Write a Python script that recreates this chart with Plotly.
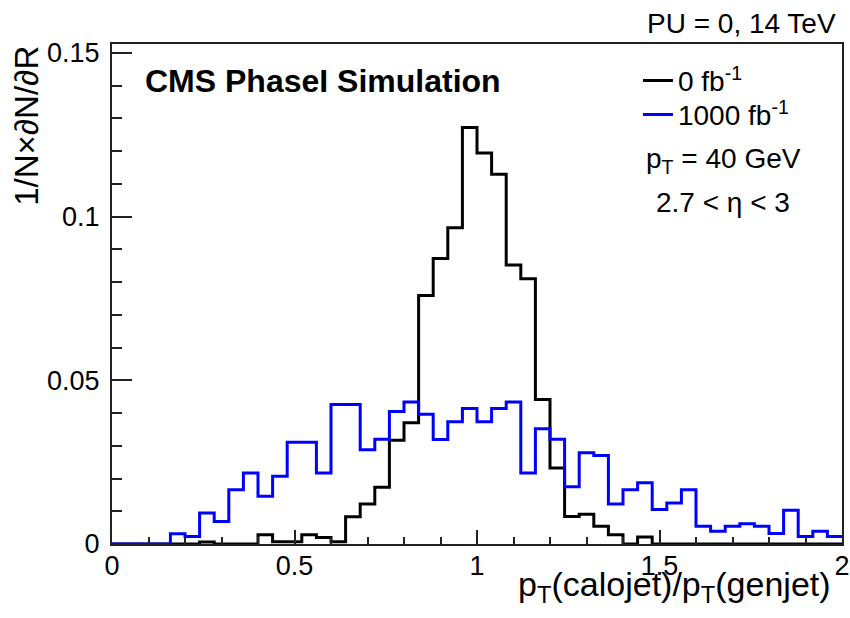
import numpy as np
import plotly.graph_objects as go

# ---- data (50 bins of width 0.04 from 0 to 2) ----
x_min, x_max, n_bins = 0.0, 2.0, 50
lumi_0_values = [
    0, 0, 0, 0, 0, 0, 0.0006, 0, 0, 0,
    0.0028, 0.0007, 0.0007, 0.0028, 0.0020, 0.0007, 0.0083, 0.0122, 0.0173, 0.0317,
    0.0370, 0.0759, 0.0872, 0.0966, 0.1272, 0.1194, 0.1129, 0.0852, 0.0810, 0.0441,
    0.0232, 0.0084, 0.0091, 0.0054, 0.0028, 0, 0.0021, 0, 0, 0,
    0, 0, 0, 0, 0, 0, 0, 0, 0, 0,
]
lumi_1000_values = [
    0, 0, 0, 0, 0.0031, 0.0023, 0.0095, 0.0069, 0.0166, 0.0217,
    0.0146, 0.0207, 0.0311, 0.0311, 0.0217, 0.0426, 0.0426, 0.0288, 0.0320, 0.0405,
    0.0434, 0.0396, 0.0319, 0.0373, 0.0414, 0.0373, 0.0414, 0.0434, 0.0217, 0.0352,
    0.0320, 0.0175, 0.0279, 0.0270, 0.0122, 0.0166, 0.0187, 0.0105, 0.0125, 0.0166,
    0.0054, 0.0039, 0.0054, 0.0062, 0.0054, 0.0032, 0.0103, 0.0023, 0.0039, 0.0023,
]
series_names = ["0 fb<sup>-1</sup>", "1000 fb<sup>-1</sup>"]
series_colors = ["#000000", "#0000ff"]
x_tick_vals = [0, 0.5, 1, 1.5, 2]
y_tick_vals = [0, 0.05, 0.1, 0.15]

edges = np.linspace(x_min, x_max, n_bins + 1)

FONT = "Liberation Sans, Arial, Helvetica, sans-serif"
AX = "#222222"

fig = go.Figure()
for vals, name, col, leg in [
    (lumi_0_values, series_names[0], series_colors[0], "legend"),
    (lumi_1000_values, series_names[1], series_colors[1], "legend2"),
]:
    fig.add_trace(go.Scatter(
        x=edges, y=list(vals) + [vals[-1]], mode="lines",
        line=dict(shape="hv", color=col, width=3),
        name=name, legend=leg, showlegend=True, hoverinfo="skip",
    ))

fig.update_layout(
    width=850, height=618,
    margin=dict(l=112, r=8, t=44, b=74, autoexpand=False),
    paper_bgcolor="white", plot_bgcolor="white",
    font=dict(family=FONT, color="black", size=26),
    legend=dict(x=0.7205, y=0.9266, xanchor="left", yanchor="middle",
                bgcolor="rgba(0,0,0,0)", font=dict(size=28, family=FONT),
                itemwidth=30),
    legend2=dict(x=0.7205, y=0.8586, xanchor="left", yanchor="middle",
                 bgcolor="rgba(0,0,0,0)", font=dict(size=28, family=FONT),
                 itemwidth=30),
)

fig.update_xaxes(
    range=[x_min, x_max], tickvals=x_tick_vals, ticks="inside", ticklen=14,
    tickwidth=2, tickcolor=AX, showline=True, linecolor=AX, linewidth=2,
    mirror=True, showgrid=False, zeroline=False, ticklabelstandoff=-3,
    automargin=False,
    tickfont=dict(size=27, family=FONT),
    minor=dict(dtick=0.1, ticks="inside", ticklen=7, tickwidth=2, tickcolor=AX, showgrid=False),
)
fig.update_yaxes(
    range=[0, 0.1527], tickvals=y_tick_vals, ticktext=["0", "0.05", "0.1", "0.15"],
    ticks="inside", ticklen=20,
    tickwidth=2, tickcolor=AX, showline=True, linecolor=AX, linewidth=2,
    mirror=True, showgrid=False, zeroline=False, ticklabelstandoff=5,
    automargin=False,
    tickfont=dict(size=27, family=FONT),
    minor=dict(dtick=0.01, ticks="inside", ticklen=10, tickwidth=2, tickcolor=AX, showgrid=False),
)

annotations = [
    dict(text="1/N×∂N/∂R", textangle=-90, x=-0.118, y=1.0, xanchor="center",
         yanchor="top", font=dict(size=33, family=FONT)),
    dict(text="p<sub>T</sub>(calojet)/p<sub>T</sub>(genjet)", x=0.988, y=-0.085,
         xanchor="right", yanchor="middle", font=dict(size=34, family=FONT)),
    dict(text="PU = 0, 14 TeV", x=0.9945, y=1.041, xanchor="right", yanchor="middle",
         font=dict(size=28, family=FONT)),
    dict(text="<b>CMS PhaseI Simulation</b>", x=0.043, y=0.9266, xanchor="left",
         yanchor="middle", font=dict(size=32, family=FONT)),
    dict(text="p<sub>T</sub> = 40 GeV", x=0.837, y=0.7666, xanchor="center",
         yanchor="middle", font=dict(size=28, family=FONT)),
    dict(text="2.7 < η < 3", x=0.837, y=0.683, xanchor="center",
         yanchor="middle", font=dict(size=28, family=FONT)),
]
for a in annotations:
    a.update(xref="paper", yref="paper", showarrow=False)
fig.update_layout(annotations=annotations)

fig.write_html("out.html", post_script="document.body.style.margin='0';",
               config={"displayModeBar": False})
